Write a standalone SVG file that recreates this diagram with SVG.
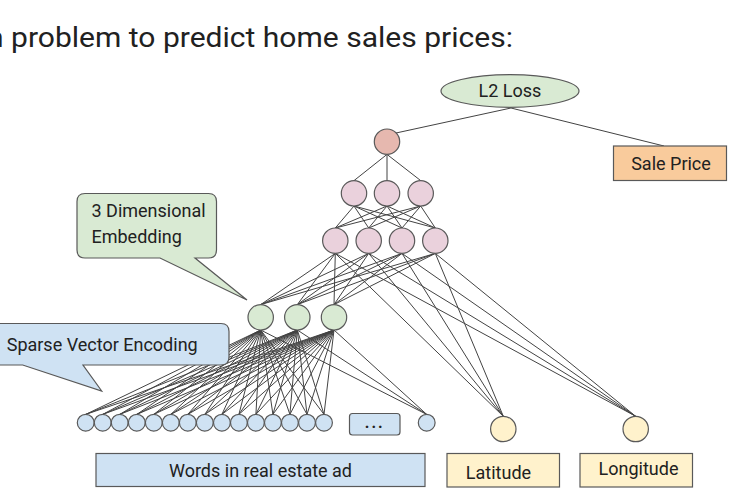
<svg xmlns="http://www.w3.org/2000/svg" width="732" height="504" viewBox="0 0 732 504">
<style>
text{font-family:Roboto,"Liberation Sans",sans-serif;fill:#212121}
.lbl{font-size:18px}
.n{stroke:#595959;stroke-width:1.2}
.pink{fill:#ead1dc}
.red{fill:#e6b8af}
.green{fill:#d9ead3}
.blue{fill:#cfe2f3}
.yel{fill:#fff2cc}
.org{fill:#f9cb9c}
#connectors line{stroke:#434343;stroke-width:1}
</style>
<rect width="732" height="504" fill="#ffffff"/>
<text x="-13" y="47" font-size="27" textLength="526" lengthAdjust="spacingAndGlyphs">n problem to predict home sales prices:</text>

<g id="connectors">
<line x1="511" y1="108" x2="396" y2="133"/>
<line x1="511" y1="108" x2="664" y2="146"/>
<line x1="387" y1="154.4" x2="354" y2="180.6"/>
<line x1="387" y1="154.4" x2="387" y2="180.6"/>
<line x1="387" y1="154.4" x2="420.7" y2="180.6"/>
<line x1="354" y1="206" x2="335.3" y2="228"/>
<line x1="354" y1="206" x2="368.7" y2="228"/>
<line x1="354" y1="206" x2="402" y2="228"/>
<line x1="354" y1="206" x2="435.3" y2="228"/>
<line x1="387" y1="206" x2="335.3" y2="228"/>
<line x1="387" y1="206" x2="368.7" y2="228"/>
<line x1="387" y1="206" x2="402" y2="228"/>
<line x1="387" y1="206" x2="435.3" y2="228"/>
<line x1="420.7" y1="206" x2="335.3" y2="228"/>
<line x1="420.7" y1="206" x2="368.7" y2="228"/>
<line x1="420.7" y1="206" x2="402" y2="228"/>
<line x1="420.7" y1="206" x2="435.3" y2="228"/>
<line x1="335.3" y1="253.4" x2="260.7" y2="304.6"/>
<line x1="335.3" y1="253.4" x2="297.3" y2="304.6"/>
<line x1="335.3" y1="253.4" x2="334" y2="304.6"/>
<line x1="335.3" y1="253.4" x2="503.3" y2="416.3"/>
<line x1="335.3" y1="253.4" x2="635.7" y2="416.3"/>
<line x1="368.7" y1="253.4" x2="260.7" y2="304.6"/>
<line x1="368.7" y1="253.4" x2="297.3" y2="304.6"/>
<line x1="368.7" y1="253.4" x2="334" y2="304.6"/>
<line x1="368.7" y1="253.4" x2="503.3" y2="416.3"/>
<line x1="368.7" y1="253.4" x2="635.7" y2="416.3"/>
<line x1="402" y1="253.4" x2="260.7" y2="304.6"/>
<line x1="402" y1="253.4" x2="297.3" y2="304.6"/>
<line x1="402" y1="253.4" x2="334" y2="304.6"/>
<line x1="402" y1="253.4" x2="503.3" y2="416.3"/>
<line x1="402" y1="253.4" x2="635.7" y2="416.3"/>
<line x1="435.3" y1="253.4" x2="260.7" y2="304.6"/>
<line x1="435.3" y1="253.4" x2="297.3" y2="304.6"/>
<line x1="435.3" y1="253.4" x2="334" y2="304.6"/>
<line x1="435.3" y1="253.4" x2="503.3" y2="416.3"/>
<line x1="435.3" y1="253.4" x2="635.7" y2="416.3"/>
<line x1="260.7" y1="330" x2="85.7" y2="414.4"/>
<line x1="260.7" y1="330" x2="102.7" y2="414.4"/>
<line x1="260.7" y1="330" x2="119.7" y2="414.4"/>
<line x1="260.7" y1="330" x2="136.8" y2="414.4"/>
<line x1="260.7" y1="330" x2="153.8" y2="414.4"/>
<line x1="260.7" y1="330" x2="170.8" y2="414.4"/>
<line x1="260.7" y1="330" x2="187.8" y2="414.4"/>
<line x1="260.7" y1="330" x2="204.8" y2="414.4"/>
<line x1="260.7" y1="330" x2="221.9" y2="414.4"/>
<line x1="260.7" y1="330" x2="238.9" y2="414.4"/>
<line x1="260.7" y1="330" x2="255.9" y2="414.4"/>
<line x1="260.7" y1="330" x2="272.9" y2="414.4"/>
<line x1="260.7" y1="330" x2="289.9" y2="414.4"/>
<line x1="260.7" y1="330" x2="307" y2="414.4"/>
<line x1="260.7" y1="330" x2="324" y2="414.4"/>
<line x1="260.7" y1="330" x2="426.7" y2="414.4"/>
<line x1="297.3" y1="330" x2="85.7" y2="414.4"/>
<line x1="297.3" y1="330" x2="102.7" y2="414.4"/>
<line x1="297.3" y1="330" x2="119.7" y2="414.4"/>
<line x1="297.3" y1="330" x2="136.8" y2="414.4"/>
<line x1="297.3" y1="330" x2="153.8" y2="414.4"/>
<line x1="297.3" y1="330" x2="170.8" y2="414.4"/>
<line x1="297.3" y1="330" x2="187.8" y2="414.4"/>
<line x1="297.3" y1="330" x2="204.8" y2="414.4"/>
<line x1="297.3" y1="330" x2="221.9" y2="414.4"/>
<line x1="297.3" y1="330" x2="238.9" y2="414.4"/>
<line x1="297.3" y1="330" x2="255.9" y2="414.4"/>
<line x1="297.3" y1="330" x2="272.9" y2="414.4"/>
<line x1="297.3" y1="330" x2="289.9" y2="414.4"/>
<line x1="297.3" y1="330" x2="307" y2="414.4"/>
<line x1="297.3" y1="330" x2="324" y2="414.4"/>
<line x1="297.3" y1="330" x2="426.7" y2="414.4"/>
<line x1="334" y1="330" x2="85.7" y2="414.4"/>
<line x1="334" y1="330" x2="102.7" y2="414.4"/>
<line x1="334" y1="330" x2="119.7" y2="414.4"/>
<line x1="334" y1="330" x2="136.8" y2="414.4"/>
<line x1="334" y1="330" x2="153.8" y2="414.4"/>
<line x1="334" y1="330" x2="170.8" y2="414.4"/>
<line x1="334" y1="330" x2="187.8" y2="414.4"/>
<line x1="334" y1="330" x2="204.8" y2="414.4"/>
<line x1="334" y1="330" x2="221.9" y2="414.4"/>
<line x1="334" y1="330" x2="238.9" y2="414.4"/>
<line x1="334" y1="330" x2="255.9" y2="414.4"/>
<line x1="334" y1="330" x2="272.9" y2="414.4"/>
<line x1="334" y1="330" x2="289.9" y2="414.4"/>
<line x1="334" y1="330" x2="307" y2="414.4"/>
<line x1="334" y1="330" x2="324" y2="414.4"/>
<line x1="334" y1="330" x2="426.7" y2="414.4"/>
</g>

<g id="l2loss"><ellipse class="n green" cx="510" cy="91" rx="69" ry="16.3"/><text class="lbl" x="510" y="97.3" text-anchor="middle">L2 Loss</text></g>
<g id="sale-price"><rect class="n org" x="613.5" y="146" width="113" height="34.5"/><text class="lbl" x="671" y="169.5" text-anchor="middle">Sale Price</text></g>
<g id="output"><circle class="n red" cx="387" cy="141.7" r="12.7"/></g>
<g id="hidden2">
<circle class="n pink" cx="354" cy="193.3" r="12.7"/>
<circle class="n pink" cx="387" cy="193.3" r="12.7"/>
<circle class="n pink" cx="420.7" cy="193.3" r="12.7"/>
</g>
<g id="hidden1">
<circle class="n pink" cx="335.3" cy="240.7" r="12.7"/>
<circle class="n pink" cx="368.7" cy="240.7" r="12.7"/>
<circle class="n pink" cx="402" cy="240.7" r="12.7"/>
<circle class="n pink" cx="435.3" cy="240.7" r="12.7"/>
</g>
<g id="embedding">
<circle class="n green" cx="260.7" cy="317.3" r="12.7"/>
<circle class="n green" cx="297.3" cy="317.3" r="12.7"/>
<circle class="n green" cx="334" cy="317.3" r="12.7"/>
</g>
<g id="sparse-inputs">
<circle class="n blue" cx="85.7" cy="422.7" r="8.4"/>
<circle class="n blue" cx="102.7" cy="422.7" r="8.4"/>
<circle class="n blue" cx="119.7" cy="422.7" r="8.4"/>
<circle class="n blue" cx="136.8" cy="422.7" r="8.4"/>
<circle class="n blue" cx="153.8" cy="422.7" r="8.4"/>
<circle class="n blue" cx="170.8" cy="422.7" r="8.4"/>
<circle class="n blue" cx="187.8" cy="422.7" r="8.4"/>
<circle class="n blue" cx="204.8" cy="422.7" r="8.4"/>
<circle class="n blue" cx="221.9" cy="422.7" r="8.4"/>
<circle class="n blue" cx="238.9" cy="422.7" r="8.4"/>
<circle class="n blue" cx="255.9" cy="422.7" r="8.4"/>
<circle class="n blue" cx="272.9" cy="422.7" r="8.4"/>
<circle class="n blue" cx="289.9" cy="422.7" r="8.4"/>
<circle class="n blue" cx="307" cy="422.7" r="8.4"/>
<circle class="n blue" cx="324" cy="422.7" r="8.4"/>
<circle class="n blue" cx="426.7" cy="422.7" r="8.4"/>
</g>
<g id="ellipsis"><rect class="n blue" x="349.5" y="413.5" width="50.5" height="21.5" rx="3"/><text x="374.8" y="428" font-size="16" font-weight="bold" letter-spacing="2" text-anchor="middle">...</text></g>
<g id="latitude-node"><circle class="n yel" cx="503.3" cy="429" r="12.7"/></g>
<g id="longitude-node"><circle class="n yel" cx="635.7" cy="429" r="12.7"/></g>
<g id="words"><rect class="n blue" x="96" y="453.5" width="329" height="33"/><text class="lbl" x="260.5" y="477" text-anchor="middle">Words in real estate ad</text></g>
<g id="latitude"><rect class="n yel" x="447" y="453.5" width="112.5" height="33.5"/><text class="lbl" x="498.5" y="478.5" text-anchor="middle">Latitude</text></g>
<g id="longitude"><rect class="n yel" x="580" y="453.5" width="112.5" height="33.5"/><text class="lbl" x="638.5" y="474.7" text-anchor="middle">Longitude</text></g>
<g id="callout-embedding"><path class="n green" d="M85 193.5 H208.5 Q216.5 193.5 216.5 201.5 V250 Q216.5 258 208.5 258 H195 L247 300 L160 258 H85 Q77 258 77 250 V201.5 Q77 193.5 85 193.5 Z"/><text class="lbl" x="91.5" y="217">3 Dimensional</text><text class="lbl" x="91.5" y="243">Embedding</text></g>
<g id="callout-sparse"><path class="n blue" d="M-10 323.5 H221 Q229 323.5 229 331.5 V357 Q229 365 221 365 H83 L101.7 391 L22.7 365 H-10 Z"/><text class="lbl" x="6.7" y="350.5">Sparse Vector Encoding</text></g>
</svg>
